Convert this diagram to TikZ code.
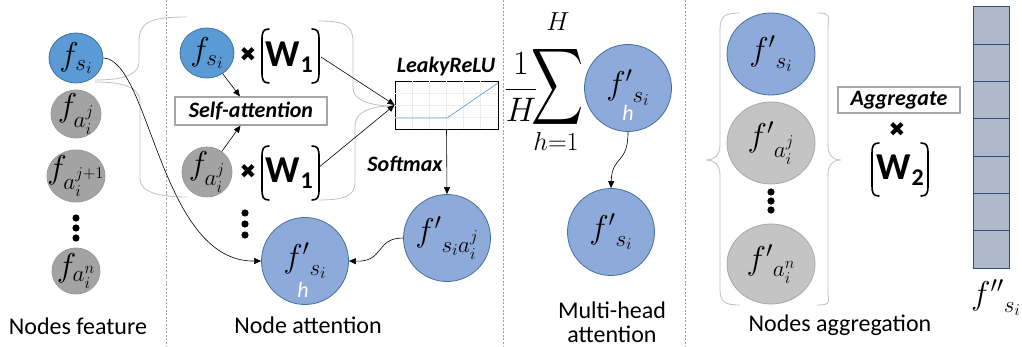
\RequirePackage{fix-cm}
\documentclass[tikz,border=0pt]{standalone}
\usepackage{exscale}
\usepackage{graphicx}
\usepackage{fontspec}
\setmainfont{Carlito}
\newfontfamily\dingfont{DejaVu Sans}
\usetikzlibrary{arrows.meta,shapes.geometric}

\definecolor{blueA}{HTML}{5B9BD5}
\definecolor{blueAline}{HTML}{41719C}
\definecolor{blueB}{HTML}{8EAADB}
\definecolor{blueBline}{HTML}{41719C}
\definecolor{grayA}{HTML}{A3A3A3}
\definecolor{grayAline}{HTML}{9A9A9A}
\definecolor{grayB}{HTML}{C4C4C4}
\definecolor{grayBline}{HTML}{A8A8A8}
\definecolor{cellfill}{HTML}{ADB9CA}
\definecolor{cellline}{HTML}{2F4F80}
\definecolor{bracecol}{HTML}{C0C0C0}
\definecolor{divcol}{HTML}{A0A0A0}
\definecolor{reluline}{HTML}{6FA8DC}

% bracket pair drawn around a weight matrix: left x, right x, top y, bottom y
\newcommand\wbrackets[4]{%
  \draw[brk] (#1+7,#3) .. controls (#1+1,#3) and (#1,#3+3) .. (#1,#3+11) -- (#1,#4-11)
             .. controls (#1,#4-3) and (#1+1,#4) .. (#1+7,#4);
  \draw[brk] (#2-7,#3) .. controls (#2-1,#3) and (#2,#3+3) .. (#2,#3+11) -- (#2,#4-11)
             .. controls (#2,#4-3) and (#2-1,#4) .. (#2-7,#4);
}

\begin{document}
\begin{tikzpicture}[x=1pt,y=-1pt,
  bubble/.style={ellipse,inner sep=-8pt,line width=0.8pt,
                 font=\fontsize{33}{36}\selectfont},
  featS/.style={bubble,fill=blueA,draw=blueAline},
  featA/.style={bubble,fill=grayA,draw=grayAline},
  headS/.style={bubble,fill=blueB,draw=blueBline,minimum width=87pt,minimum height=87pt},
  aggA/.style={bubble,fill=grayB,draw=grayBline},
  labeltext/.style={font=\fontsize{24}{26}\selectfont,inner sep=0pt},
  tagbox/.style={draw=gray!70,line width=1.2pt,inner sep=0pt,
                 font=\fontsize{22}{24}\selectfont\bfseries\itshape},
  tagtext/.style={inner sep=0pt,font=\fontsize{22}{24}\selectfont\bfseries\itshape},
  wtext/.style={inner sep=0pt,font=\fontsize{38}{40}\selectfont\bfseries},
  times/.style={inner sep=0pt,font=\fontsize{20}{22}\selectfont\dingfont},
  mathpart/.style={inner sep=0pt},
  brk/.style={line width=1.6pt,line cap=round},
  bracecurve/.style={draw=bracecol,line width=0.8pt},
  divider/.style={draw=divcol,line width=0.8pt,dash pattern=on 2pt off 1.6pt},
  link/.style={line width=0.6pt,-{Triangle[length=7pt,width=6pt]}},
  hmark/.style={inner sep=0pt,text=white,font=\fontsize{22}{24}\selectfont\itshape}]

\useasboundingbox (0,0) rectangle (1022,347);

% panel separators
\draw[divider] (166,0) -- (166,347);
\draw[divider] (503,0) -- (503,347);
\draw[divider] (685,0) -- (685,347);

% ---------- Nodes feature ----------
\node[featS,minimum width=54pt,minimum height=50pt] (fs) at (76,58) {$f_{s_i}$};
\node[featA,minimum width=50pt,minimum height=48pt] (fa1) at (76,114) {$f_{a_i^j}$};
\node[featA,minimum width=54pt,minimum height=52pt] (fa2) at (76,176) {$f_{a_i^{j+1}}$};
\fill (76,218) circle (3.6) (76,228) circle (3.6) (76,238) circle (3.6);
\node[featA,minimum width=48pt,minimum height=46pt] (fan) at (76,271) {$f_{a_i^n}$};
\node[labeltext] (lab1) at (78,326) {Nodes feature};

% ---------- Node attention ----------
% grouping braces
\draw[bracecurve] (187,17) .. controls (150,17) and (139,22) .. (139,42) -- (139,62)
   .. controls (139,76) and (120,80) .. (95,80);
\draw[bracecurve] (95,82) .. controls (120,82) and (140,86) .. (140,102) -- (140,178)
   .. controls (140,193) and (160,197) .. (187,197);
\draw[bracecurve] (318,21) .. controls (345,21) and (353,25) .. (353,42) -- (353,88)
   .. controls (353,100) and (370,106) .. (393,106);
\draw[bracecurve] (393,106) .. controls (370,106) and (355,112) .. (355,126) -- (355,182)
   .. controls (355,196) and (345,200) .. (318,200);

\node[featS,minimum width=54pt,minimum height=50pt] (qs) at (207,53) {$f_{s_i}$};
\node[times] (x1) at (248,55) {✖};
\node[wtext] (w1a) at (289,57) {W\kern1pt\raisebox{-6pt}{\fontsize{24}{24}\selectfont 1}};
\wbrackets{262}{319}{29}{83}

\node[tagbox,minimum width=152pt,minimum height=28pt] (sa) at (251,111) {Self-attention};

\node[featA,minimum width=50pt,minimum height=50pt] (qa) at (207,172) {$f_{a_i^j}$};
\node[times] (x2) at (248,172) {✖};
\node[wtext] (w1b) at (289,173) {W\kern1pt\raisebox{-6pt}{\fontsize{24}{24}\selectfont 1}};
\wbrackets{262}{319}{146}{200}

\draw[link] (qs) -- (sa);
\draw[link] (qa) -- (sa);

% LeakyReLU plot
\node[tagtext] (lrtitle) at (446,67) {LeakyReLU};
\node[draw=black,line width=0.8pt,minimum width=103pt,minimum height=48pt,inner sep=0pt] (lr) at (446.5,105) {};
\begin{scope}
  \clip (395,81) rectangle (498,129);
  \foreach \gx in {412,429,446,463,480} \draw[gray!15,line width=0.5pt] (\gx,81) -- (\gx,129);
  \foreach \gy in {93,105,117} \draw[gray!15,line width=0.5pt] (395,\gy) -- (498,\gy);
\end{scope}
\draw[reluline,line width=0.8pt] (395,118) -- (447,118) -- (498,83);

\coordinate (w1aout) at (321,57);
\coordinate (w1bout) at (318,168);
\draw[link] (w1aout) -- (lr.west);
\draw[link] (w1bout) -- (lr.west);

\node[headS] (att) at (447,238) {${f'}_{s_ia_i^j}$};
\node[tagtext] (sm) at (405,164) {Softmax};
\draw[link] (lr.south) -- (att.north);

\fill (245,213) circle (3.6) (245,224) circle (3.6) (245,235) circle (3.6);

\node[headS] (hs) at (305,261) {\raisebox{10pt}{${f'}_{s_i}$}};
\node[hmark] (hs-h) at (303,290) {h};

\draw[link] (fs.east) .. controls (150,60) and (160,262) .. (hs.west);
\draw[link] (att.west) .. controls (375,238) and (385,262) .. (hs.east);

\node[labeltext] (lab2) at (308,325) {Node attention};

% ---------- Multi-head attention ----------
\node[mathpart,font=\fontsize{34}{36}\selectfont] (frac) at (521,87) {$\displaystyle\frac{1}{H}$};
\node[mathpart,font=\fontsize{34}{36}\selectfont] (sigma) at (558,87)
  {\scalebox{1.45}[2.15]{$\displaystyle\sum$}};
\node[mathpart,font=\fontsize{26}{28}\selectfont] (supH) at (558,22) {$H$};
\node[mathpart,font=\fontsize{26}{28}\selectfont] (subh) at (556,141) {$h{=}1$};
\node[headS] (mh) at (628,88) {\raisebox{10pt}{${f'}_{s_i}$}};
\node[hmark] (mh-h) at (628,113) {h};
\node[headS] (mo) at (611,232) {${f'}_{s_i}$};
\draw[link] (mh.south) .. controls (628,165) and (612,155) .. (mo.north);
\node[labeltext,align=center] (lab3) at (612,322) {Multi-head\\[-2pt]attention};

% ---------- Nodes aggregation ----------
\draw[bracecurve] (740,13) .. controls (725,13) and (720,16) .. (720,30) -- (720,145)
   .. controls (720,155) and (714,160) .. (707,160)
   .. controls (714,160) and (720,165) .. (720,175) -- (720,290)
   .. controls (720,302) and (725,305) .. (740,305);
\draw[bracecurve] (817,13) .. controls (832,13) and (828,16) .. (828,30) -- (828,145)
   .. controls (828,155) and (833,160) .. (840,160)
   .. controls (833,160) and (828,165) .. (828,175) -- (828,290)
   .. controls (828,302) and (832,305) .. (817,305);

\node[headS,minimum width=88pt,minimum height=82pt] (gs) at (771,54) {${f'}_{s_i}$};
\node[aggA,minimum width=88pt,minimum height=82pt] (ga) at (771,143) {${f'}_{a_i^j}$};
\fill (771,192) circle (3.6) (771,201) circle (3.6) (771,210) circle (3.6);
\node[aggA,minimum width=88pt,minimum height=80pt] (gn) at (771,264) {${f'}_{a_i^n}$};

\node[tagbox,minimum width=122pt,minimum height=26pt] (agg) at (899,100) {Aggregate};
\node[times] (x3) at (897,130) {✖};
\node[wtext] (w2) at (900,170) {W\kern1pt\raisebox{-6pt}{\fontsize{24}{24}\selectfont 2}};
\wbrackets{872}{928}{143}{196}

% output vector
\foreach \k in {0,...,6}
  \draw[fill=cellfill,draw=cellline,line width=1pt] (973,7+\k*37.3) rectangle (1009,7+\k*37.3+37.3);
\node[inner sep=0pt,font=\fontsize{33}{36}\selectfont] (fout) at (996,298) {${f''}_{s_i}$};

\node[labeltext] (lab4) at (840,325) {Nodes aggregation};
\end{tikzpicture}
\end{document}
